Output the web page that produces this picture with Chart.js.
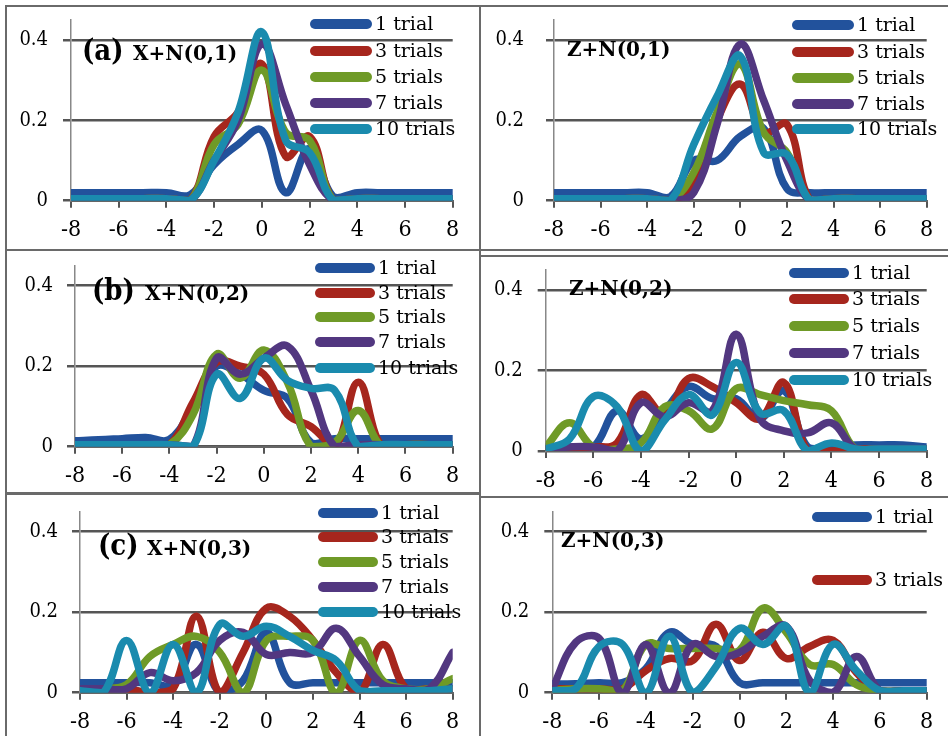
<!DOCTYPE html>
<html>
<head>
<meta charset="utf-8">
<script src="https://cdn.jsdelivr.net/npm/chart.js@4.4.1/dist/chart.umd.min.js"></script>
<style>
  body { margin: 0; background: #fff; }
  #fig { position: relative; width: 948px; height: 736px; overflow: hidden; background: #fff; }
  .frame { position: absolute; border: 2px solid #6a6a6a; box-sizing: border-box; }
  canvas { position: absolute; }
</style>
</head>
<body>
<div id="fig"></div>
<script>
// x positions (every integer from -8 to 8)
const xs = [-8, -7, -6, -5, -4, -3, -2, -1, 0, 1, 2, 3, 4, 5, 6, 7, 8];
const trialNames = ['1 trial', '3 trials', '5 trials', '7 trials', '10 trials'];
const trialColors = ['#22529c', '#a6261d', '#6f9a27', '#523780', '#1a8bae'];

// (a) X+N(0,1)
const xn1_t1  = [0.02, 0.02, 0.02, 0.02, 0.02, 0.015, 0.09, 0.14, 0.175, 0.02, 0.13, 0.01, 0.02, 0.02, 0.02, 0.02, 0.02];
const xn1_t3  = [0.005, 0.005, 0.005, 0.005, 0.005, 0.0, 0.16, 0.22, 0.34, 0.11, 0.16, 0.0, 0.005, 0.005, 0.005, 0.005, 0.005];
const xn1_t5  = [0.005, 0.005, 0.005, 0.005, 0.005, 0.0, 0.14, 0.19, 0.325, 0.17, 0.15, 0.0, 0.005, 0.005, 0.005, 0.005, 0.005];
const xn1_t7  = [0.005, 0.005, 0.005, 0.005, 0.005, 0.0, 0.1, 0.2, 0.39, 0.24, 0.09, 0.0, 0.005, 0.005, 0.005, 0.005, 0.005];
const xn1_t10 = [0.005, 0.005, 0.005, 0.005, 0.005, 0.0, 0.1, 0.22, 0.42, 0.15, 0.12, 0.0, 0.005, 0.005, 0.005, 0.005, 0.005];

// Z+N(0,1)
const zn1_t1  = [0.02, 0.02, 0.02, 0.02, 0.02, 0.01, 0.1, 0.1, 0.16, 0.18, 0.03, 0.02, 0.02, 0.02, 0.02, 0.02, 0.02];
const zn1_t3  = [0.005, 0.005, 0.005, 0.005, 0.005, 0.0, 0.04, 0.2, 0.29, 0.17, 0.19, 0.0, 0.005, 0.005, 0.005, 0.005, 0.005];
const zn1_t5  = [0.005, 0.005, 0.005, 0.005, 0.005, 0.0, 0.07, 0.22, 0.34, 0.17, 0.12, 0.0, 0.005, 0.005, 0.005, 0.005, 0.005];
const zn1_t7  = [0.005, 0.005, 0.005, 0.005, 0.005, 0.0, 0.02, 0.19, 0.39, 0.25, 0.1, 0.0, 0.005, 0.005, 0.005, 0.005, 0.005];
const zn1_t10 = [0.005, 0.005, 0.005, 0.005, 0.005, 0.0, 0.14, 0.26, 0.36, 0.12, 0.115, 0.0, 0.005, 0.005, 0.005, 0.005, 0.005];

// (b) X+N(0,2)
const xn2_t1  = [0.015, 0.017, 0.02, 0.023, 0.018, 0.1, 0.2, 0.18, 0.14, 0.12, 0.01, 0.02, 0.02, 0.02, 0.02, 0.02, 0.02];
const xn2_t3  = [0.005, 0.005, 0.005, 0.005, 0.005, 0.11, 0.21, 0.2, 0.18, 0.08, 0.05, 0.0, 0.16, 0.0, 0.005, 0.005, 0.005];
const xn2_t5  = [0.005, 0.005, 0.005, 0.005, 0.005, 0.08, 0.23, 0.17, 0.24, 0.16, 0.0, 0.01, 0.09, 0.0, 0.005, 0.005, 0.005];
const xn2_t7  = [0.005, 0.005, 0.005, 0.005, 0.005, 0.0, 0.22, 0.18, 0.22, 0.25, 0.14, 0.0, 0.005, 0.005, 0.005, 0.005, 0.005];
const xn2_t10 = [0.005, 0.005, 0.005, 0.005, 0.005, 0.0, 0.18, 0.12, 0.22, 0.165, 0.145, 0.14, 0.0, 0.005, 0.005, 0.005, 0.005];

// Z+N(0,2)
const zn2_t1  = [0.01, 0.01, 0.01, 0.1, 0.03, 0.1, 0.16, 0.13, 0.13, 0.08, 0.15, 0.01, 0.01, 0.015, 0.015, 0.015, 0.01];
const zn2_t3  = [0.005, 0.005, 0.01, 0.02, 0.14, 0.09, 0.18, 0.16, 0.12, 0.08, 0.17, 0.0, 0.0, 0.005, 0.005, 0.005, 0.005];
const zn2_t5  = [0.01, 0.07, 0.01, 0.005, 0.02, 0.11, 0.1, 0.055, 0.155, 0.14, 0.125, 0.115, 0.1, 0.005, 0.005, 0.005, 0.005];
const zn2_t7  = [0.005, 0.01, 0.01, 0.0, 0.12, 0.085, 0.12, 0.1, 0.29, 0.08, 0.05, 0.045, 0.07, 0.005, 0.005, 0.005, 0.005];
const zn2_t10 = [0.005, 0.03, 0.135, 0.11, 0.0, 0.077, 0.14, 0.09, 0.22, 0.095, 0.1, 0.0, 0.02, 0.005, 0.005, 0.005, 0.005];

// (c) X+N(0,3)
const xn3_t1  = [0.025, 0.025, 0.025, 0.025, 0.02, 0.12, 0.0, 0.03, 0.15, 0.025, 0.025, 0.025, 0.025, 0.025, 0.025, 0.025, 0.025];
const xn3_t3  = [0.01, 0.01, 0.01, 0.0, 0.01, 0.19, 0.0, 0.1, 0.21, 0.19, 0.13, 0.05, 0.0, 0.12, 0.01, 0.01, 0.01];
const xn3_t5  = [0.01, 0.01, 0.02, 0.09, 0.12, 0.14, 0.1, 0.0, 0.13, 0.14, 0.13, 0.0, 0.13, 0.03, 0.01, 0.01, 0.035];
const xn3_t7  = [0.01, 0.01, 0.01, 0.05, 0.03, 0.05, 0.13, 0.15, 0.095, 0.1, 0.1, 0.16, 0.09, 0.02, 0.01, 0.01, 0.1];
const xn3_t10 = [0.005, 0.0, 0.13, 0.0, 0.12, 0.0, 0.17, 0.14, 0.165, 0.14, 0.105, 0.08, 0.005, 0.005, 0.005, 0.005, 0.01];

// Z+N(0,3)
const zn3_t1  = [0.022, 0.022, 0.025, 0.025, 0.06, 0.15, 0.12, 0.115, 0.025, 0.025, 0.025, 0.025, 0.025, 0.025, 0.025, 0.025, 0.025];
const zn3_t3  = [0.01, 0.01, 0.01, 0.01, 0.055, 0.085, 0.08, 0.17, 0.08, 0.15, 0.085, 0.115, 0.13, 0.05, 0.005, 0.005, 0.005];
const zn3_t5  = [0.005, 0.01, 0.01, 0.005, 0.12, 0.11, 0.11, 0.11, 0.105, 0.21, 0.15, 0.07, 0.07, 0.02, 0.005, 0.005, 0.005];
const zn3_t7  = [0.01, 0.125, 0.135, 0.0, 0.12, 0.0, 0.12, 0.09, 0.1, 0.14, 0.165, 0.03, 0.0, 0.09, 0.005, 0.005, 0.005];
const zn3_t10 = [0.005, 0.01, 0.115, 0.12, 0.0, 0.14, 0.0, 0.065, 0.16, 0.12, 0.165, 0.0, 0.12, 0.055, 0.005, 0.005, 0.005];

// panel layout in page pixels: frame box, plot x range, pixel of y=0 and y=0.4
const panels = [
  { frame: [5, 5, 481, 251], x0: 71, x1: 452.7, y0: 200.7, y4: 40, gap: 15,
    title: [['(a)', 82, 29, true], ['X+N(0,1)', 133, 20]], titleY: 60,
    legend: { x0: 310, x1: 372, tx: 375, rows: [24, 51, 77, 103, 129] },
    series: [xn1_t1, xn1_t3, xn1_t5, xn1_t7, xn1_t10] },
  { frame: [479, 5, 950, 251], x0: 554, x1: 926.7, y0: 200.7, y4: 40, gap: 22,
    title: [['Z+N(0,1)', 567, 20]], titleY: 56,
    legend: { x0: 792, x1: 854, tx: 857, rows: [25, 52, 78, 104, 129] },
    series: [zn1_t1, zn1_t3, zn1_t5, zn1_t7, zn1_t10] },
  { frame: [5, 249, 481, 495], x0: 75, x1: 452.7, y0: 446.7, y4: 285.7, gap: 14,
    title: [['(b)', 92, 29, true], ['X+N(0,2)', 145, 20]], titleY: 300,
    legend: { x0: 315, x1: 375, tx: 378, rows: [268, 293, 317, 342, 368] },
    series: [xn2_t1, xn2_t3, xn2_t5, xn2_t7, xn2_t10] },
  { frame: [479, 255, 950, 498], x0: 545.7, x1: 926.7, y0: 451, y4: 290, gap: 15,
    title: [['Z+N(0,2)', 569, 20]], titleY: 295,
    legend: { x0: 789, x1: 849, tx: 852, rows: [273, 299, 326, 353, 380] },
    series: [zn2_t1, zn2_t3, zn2_t5, zn2_t7, zn2_t10] },
  { frame: [5, 492, 481, 740], x0: 80, x1: 452.7, y0: 692.7, y4: 531.7, gap: 14,
    title: [['(c)', 98, 29, true], ['X+N(0,3)', 147, 20]], titleY: 555,
    legend: { x0: 318, x1: 378, tx: 381, rows: [513, 537, 562, 587, 612] },
    series: [xn3_t1, xn3_t3, xn3_t5, xn3_t7, xn3_t10] },
  { frame: [479, 496, 950, 740], x0: 552.3, x1: 926.7, y0: 692.7, y4: 531.7, gap: 15,
    title: [['Z+N(0,3)', 561, 20]], titleY: 547,
    legend: { x0: 812, x1: 872, tx: 875, rows: [517, 580] },
    series: [zn3_t1, zn3_t3, zn3_t5, zn3_t7, zn3_t10] }
];

const Y_MAX = 0.45;
const FONT = '"DejaVu Serif", "Liberation Serif", serif';
const TICK_FONT = '"DejaVu Serif Condensed", "DejaVu Serif", serif';

// draws the panel title and the legend on top of the lines
const panelText = {
  id: 'panelText',
  afterDatasetsDraw(chart, args, opts) {
    const ctx = chart.ctx;
    const ox = opts.ox, oy = opts.oy;
    const lg = opts.legend;
    ctx.save();
    ctx.lineCap = 'round';
    lg.rows.forEach((ry, i) => {
      ctx.strokeStyle = trialColors[i];
      ctx.lineWidth = 10;
      ctx.beginPath();
      ctx.moveTo(lg.x0 + 5 - ox, ry - oy);
      ctx.lineTo(lg.x1 - 5 - ox, ry - oy);
      ctx.stroke();
      ctx.fillStyle = '#000';
      ctx.font = '19px ' + FONT;
      ctx.textBaseline = 'middle';
      ctx.fillText(trialNames[i], lg.tx - ox, ry + 1 - oy);
    });
    ctx.textBaseline = 'alphabetic';
    opts.title.forEach(([txt, tx, size, narrow]) => {
      ctx.font = 'bold ' + size + 'px ' + (narrow ? TICK_FONT : FONT);
      ctx.fillStyle = '#000';
      ctx.fillText(txt, tx - ox, opts.titleY - oy);
    });
    ctx.restore();
  }
};

Chart.defaults.font.family = FONT;
Chart.defaults.color = '#000';

const fig = document.getElementById('fig');

panels.forEach((p) => {
  const [fl, ft, fr, fb] = p.frame;
  const frame = document.createElement('div');
  frame.className = 'frame';
  frame.style.left = fl + 'px';
  frame.style.top = ft + 'px';
  frame.style.width = (fr - fl) + 'px';
  frame.style.height = (fb - ft) + 'px';
  fig.appendChild(frame);

  const cl = fl + 2, ct = ft + 2;
  const cw = fr - fl - 4, chh = fb - ft - 4;
  const cv = document.createElement('canvas');
  cv.width = cw; cv.height = chh;
  cv.style.left = cl + 'px'; cv.style.top = ct + 'px';
  cv.style.width = cw + 'px'; cv.style.height = chh + 'px';
  fig.appendChild(cv);

  const pxPerUnit = (p.y0 - p.y4) / 0.4;
  const areaTop = p.y0 - Y_MAX * pxPerUnit;

  const datasets = p.series.map((vals, i) => ({
    label: trialNames[i],
    data: xs.map((x, j) => ({ x: x, y: vals[j] })),
    borderColor: trialColors[i],
    borderWidth: 7.5,
    borderCapStyle: 'round',
    borderJoinStyle: 'round',
    pointRadius: 0,
    tension: 0.4,
    fill: false,
    order: 5 - i
  }));

  new Chart(cv.getContext('2d'), {
    type: 'line',
    data: { datasets: datasets },
    options: {
      responsive: false,
      animation: false,
      devicePixelRatio: 1,
      layout: { padding: { left: 0, top: areaTop - ct, right: (cl + cw) - p.x1, bottom: 0 } },
      plugins: {
        legend: { display: false },
        tooltip: { enabled: false },
        panelText: { ox: cl, oy: ct, legend: p.legend, title: p.title, titleY: p.titleY }
      },
      scales: {
        x: {
          type: 'linear', min: -8, max: 8,
          afterFit: (s) => { s.height = (ct + chh) - p.y0; },
          ticks: { stepSize: 2, padding: 9, font: { size: 23, family: TICK_FONT }, color: '#000', maxRotation: 0 },
          grid: { display: true, drawOnChartArea: false, drawTicks: true, tickLength: 7, color: '#555', lineWidth: 2 },
          border: { display: true, color: '#666', width: 2 }
        },
        y: {
          type: 'linear', min: 0, max: Y_MAX,
          afterFit: (s) => { s.width = p.x0 - cl; s.paddingTop = 0; s.paddingBottom = 0; },
          ticks: { stepSize: 0.2, includeBounds: false, padding: p.gap, font: { size: 20, family: TICK_FONT }, color: '#000',
                   callback: (v) => (Math.round(v * 10) / 10).toString() },
          grid: { color: '#555', lineWidth: 2.5, drawTicks: true, tickLength: 8 },
          border: { display: true, color: '#888', width: 1.5 }
        }
      }
    },
    plugins: [panelText]
  });
});
</script>
</body>
</html>
